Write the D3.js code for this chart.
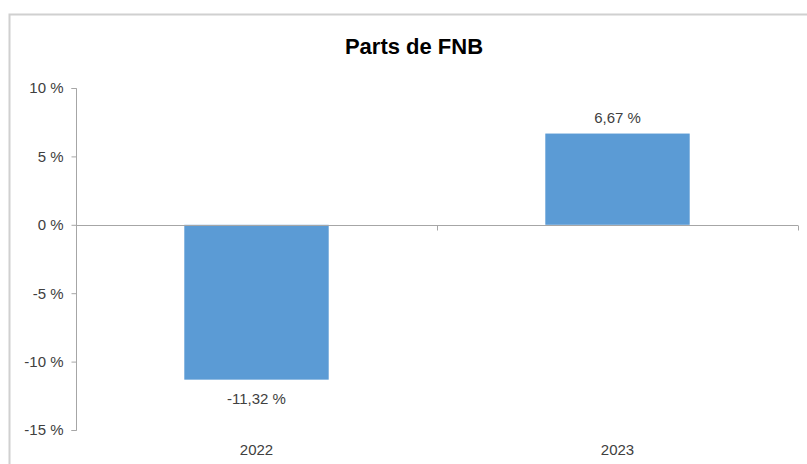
<!DOCTYPE html>
<html>
<head>
<meta charset="utf-8">
<script src="https://cdn.jsdelivr.net/npm/d3@7"></script>
<style>
  body { margin: 0; background: #fff; }
  text { font-family: "Liberation Sans", Arial, sans-serif; fill: #404040; }
</style>
</head>
<body>
<div id="chart"></div>
<script>
var width = 807;
var height = 464;

// donnees
var years = ["2022", "2023"];
var values = [-11.32, 6.67];
var valueLabels = ["-11,32 %", "6,67 %"];
var yTicks = [-15, -10, -5, 0, 5, 10];
var yTickLabels = ["-15 %", "-10 %", "-5 %", "0 %", "5 %", "10 %"];

var margin = {top: 88, right: 9, bottom: 34, left: 76};

var svg = d3.select("#chart").append("svg")
    .attr("width", width)
    .attr("height", height);

// cadre du graphique (coupe a droite et en bas)
svg.append("path")
    .attr("d", "M9.5," + height + "V14.5H" + width)
    .attr("fill", "none")
    .attr("stroke", "#d0d0d0")
    .attr("stroke-width", 2);

svg.append("text")
    .attr("x", 414)
    .attr("y", 54)
    .attr("text-anchor", "middle")
    .style("font-size", "22px")
    .style("font-weight", "bold")
    .style("fill", "#000")
    .text("Parts de FNB");

var x = d3.scaleBand()
    .domain(years)
    .range([margin.left, width - margin.right])
    .paddingInner(0.6)
    .paddingOuter(0.3);

var xCat = d3.scaleBand()
    .domain(years)
    .range([margin.left, width - margin.right]);

var y = d3.scaleLinear()
    .domain([-15, 10])
    .range([height - margin.bottom, margin.top]);

// axe y
var yAxis = svg.append("g")
    .attr("transform", "translate(" + (margin.left + 0.5) + ",0)")
    .call(d3.axisLeft(y)
        .tickValues(yTicks)
        .tickSize(5)
        .tickPadding(8)
        .tickFormat(function(d, i) { return yTickLabels[i]; }));
yAxis.select(".domain").attr("stroke", "#a6a6a6").attr("d", "M-5," + (y(10) + 0.5) + "H0V" + (y(-15) + 0.5) + "H-5");
yAxis.selectAll(".tick line").attr("stroke", "#a6a6a6");
yAxis.selectAll(".tick text").style("font-size", "15px").style("fill", "#404040").style("font-family", "\"Liberation Sans\", Arial, sans-serif");

// barres
svg.selectAll("rect.bar")
    .data(values)
    .enter()
    .append("rect")
    .attr("class", "bar")
    .attr("x", function(d, i) { return x(years[i]); })
    .attr("width", x.bandwidth())
    .attr("y", function(d) { return y(Math.max(0, d)); })
    .attr("height", function(d) { return Math.abs(y(d) - y(0)); })
    .attr("fill", "#5b9bd5");

// axe x (ligne du zero)
var xAxis = svg.append("g")
    .attr("transform", "translate(0," + (Math.round(y(0)) + 0.5) + ")");
xAxis.append("line")
    .attr("x1", margin.left)
    .attr("x2", width - margin.right)
    .attr("stroke", "#a6a6a6");
xAxis.selectAll("line.sep")
    .data(years)
    .enter()
    .append("line")
    .attr("class", "sep")
    .attr("x1", function(d) { return Math.round(xCat(d) + xCat.bandwidth()) + 0.5; })
    .attr("x2", function(d) { return Math.round(xCat(d) + xCat.bandwidth()) + 0.5; })
    .attr("y1", 0)
    .attr("y2", 5)
    .attr("stroke", "#a6a6a6");

// etiquettes des categories
svg.selectAll("text.cat")
    .data(years)
    .enter()
    .append("text")
    .attr("class", "cat")
    .attr("x", function(d) { return xCat(d) + xCat.bandwidth() / 2; })
    .attr("y", y(-15) + 25)
    .attr("text-anchor", "middle")
    .style("font-size", "15px")
    .text(function(d) { return d; });

// etiquettes des valeurs
svg.selectAll("text.val")
    .data(values)
    .enter()
    .append("text")
    .attr("class", "val")
    .attr("x", function(d, i) { return x(years[i]) + x.bandwidth() / 2; })
    .attr("y", function(d) { return d >= 0 ? y(d) - 11 : y(d) + 24; })
    .attr("text-anchor", "middle")
    .style("font-size", "15px")
    .text(function(d, i) { return valueLabels[i]; });
</script>
</body>
</html>
